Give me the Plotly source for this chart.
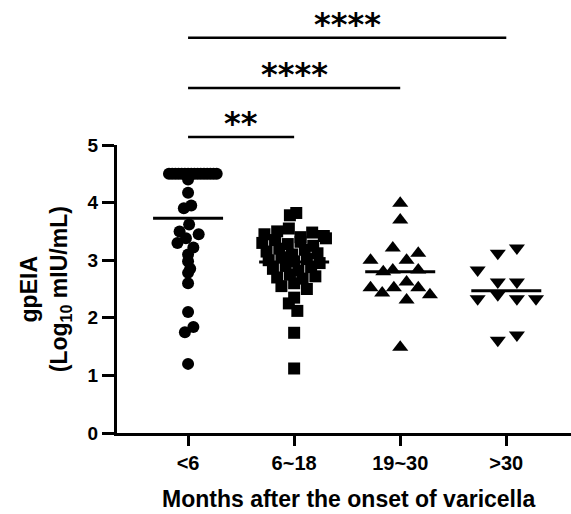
import plotly.graph_objects as go

# ---------------- data ----------------
categories = ["<6", "6~18", "19~30", ">30"]

# <6 months (circles)
g1_values = [4.5] * 16 + [4.40, 4.17, 3.95, 3.90, 3.62, 3.50, 3.45, 3.38, 3.30,
                          3.22, 3.10, 2.98, 2.85, 2.78, 2.60, 2.10, 1.84, 1.75, 1.20]
g1_jitter = [-0.18, -0.15, -0.12, -0.09, -0.06, -0.03, 0.0, 0.03, 0.06, 0.09, 0.12,
             0.15, 0.18, 0.21, 0.24, 0.27,
             0.0, 0.0, 0.03, -0.04, 0.01, -0.08, 0.10, -0.02, -0.10,
             0.05, 0.0, 0.0, 0.02, 0.0, 0.0, 0.0, 0.05, -0.03, 0.0]

# 6~18 months (squares)
g2_values = [3.82, 3.78,
             3.45, 3.50, 3.55, 3.40, 3.48, 3.42,
             3.30, 3.35, 3.28, 3.32, 3.25, 3.38,
             3.15, 3.20, 3.10, 3.18, 3.12,
             3.00, 3.05, 2.98, 3.02, 2.95,
             2.85, 2.90, 2.82, 2.88,
             2.70, 2.75, 2.68, 2.72,
             2.55, 2.60, 2.50,
             2.35, 2.25, 2.12, 1.74, 1.12]
g2_jitter = [0.02, -0.04,
             -0.28, -0.16, -0.05, 0.06, 0.17, 0.28,
             -0.30, -0.18, -0.06, 0.06, 0.18, 0.30,
             -0.26, -0.14, -0.02, 0.10, 0.22,
             -0.24, -0.12, 0.0, 0.12, 0.24,
             -0.20, -0.08, 0.04, 0.16,
             -0.16, -0.04, 0.08, 0.20,
             -0.12, 0.0, 0.12,
             0.0, -0.05, 0.03, 0.0, 0.0]

# 19~30 months (up triangles)
g3_values = [3.99, 3.70, 3.21, 3.12, 3.00, 3.00, 2.80, 2.83, 2.83, 2.62,
             2.52, 2.52, 2.52, 2.43, 2.40, 2.31, 1.49]
g3_jitter = [0.0, 0.0, -0.07, 0.17, -0.28, 0.06, -0.16, -0.07, 0.17, 0.06,
             -0.28, -0.06, 0.17, -0.17, 0.28, 0.06, 0.0]

# >30 months (down triangles)
g4_values = [3.12, 3.21, 2.83, 2.62, 2.62, 2.33, 2.40, 2.33, 2.33, 1.61, 1.70]
g4_jitter = [-0.08, 0.10, -0.27, -0.08, 0.10, -0.27, -0.08, 0.10, 0.28, -0.08, 0.10]

group_means = [3.73, 2.97, 2.80, 2.47]

# significance comparisons: (from group, to group, bar level in y units, label)
sig_from = [0, 0, 0]
sig_to = [1, 2, 3]
sig_level = [5.14, 5.99, 6.86]
sig_label = ["**", "****", "****"]

# ---------------- figure ----------------
FONT = "Liberation Sans, Arial, sans-serif"
fig = go.Figure()

groups = [(g1_values, g1_jitter, "circle", 12),
          (g2_values, g2_jitter, "square", 12),
          (g3_values, g3_jitter, "triangle-up", 14),
          (g4_values, g4_jitter, "triangle-down", 14)]

for i, (vals, jit, sym, sz) in enumerate(groups):
    fig.add_trace(go.Scatter(
        x=[i + j for j in jit], y=vals, mode="markers",
        marker=dict(symbol=sym, size=sz, color="black", line=dict(width=0)),
        showlegend=False, hoverinfo="y"))

for i, m in enumerate(group_means):
    fig.add_trace(go.Scatter(
        x=[i - 0.33, i + 0.33], y=[m, m], mode="lines",
        line=dict(color="black", width=3), showlegend=False, hoverinfo="skip"))

for a, b, lvl, lab in zip(sig_from, sig_to, sig_level, sig_label):
    fig.add_shape(type="line", xref="x", yref="paper",
                  x0=a, x1=b, y0=lvl / 5, y1=lvl / 5,
                  line=dict(color="black", width=2.5))
    fig.add_annotation(x=(a + b) / 2, y=lvl / 5, xref="x", yref="paper",
                       text=lab, showarrow=False, yanchor="bottom", yshift=-7,
                       font=dict(family="DejaVu Sans", size=32, color="black", weight="bold"))

# axis titles as annotations for precise placement
fig.add_annotation(xref="paper", yref="paper", x=-0.158, y=0.5,
                   text="gpEIA<br>(Log<sub>10</sub> mIU/mL)", textangle=-90,
                   showarrow=False, xanchor="center", yanchor="middle",
                   font=dict(family=FONT, size=23, color="black", weight="bold"))
fig.add_annotation(xref="paper", yref="paper", x=(348 - 117) / 454, y=-0.229,
                   text="Months after the onset of varicella",
                   showarrow=False, xanchor="center", yanchor="middle",
                   font=dict(family=FONT, size=23, color="black", weight="bold"))

fig.update_layout(
    width=571, height=514,
    margin=dict(l=117, r=0, t=145, b=81, pad=0),
    paper_bgcolor="white", plot_bgcolor="white",
    font=dict(family=FONT, color="black", weight="bold"),
    xaxis=dict(range=[-0.67, 3.61], tickvals=[0, 1, 2, 3], ticktext=categories,
               showline=True, linecolor="black", linewidth=3,
               ticks="outside", ticklen=10, tickwidth=3, tickcolor="black",
               showgrid=False, zeroline=False,
               tickfont=dict(family=FONT, size=20, color="black", weight="bold")),
    yaxis=dict(range=[0, 5], tickvals=[0, 1, 2, 3, 4, 5],
               showline=True, linecolor="black", linewidth=3,
               ticks="outside", ticklen=12, tickwidth=3, tickcolor="black",
               showgrid=False, zeroline=False,
               tickfont=dict(family=FONT, size=19, color="black", weight="bold")),
)

fig.write_html("out.html")
